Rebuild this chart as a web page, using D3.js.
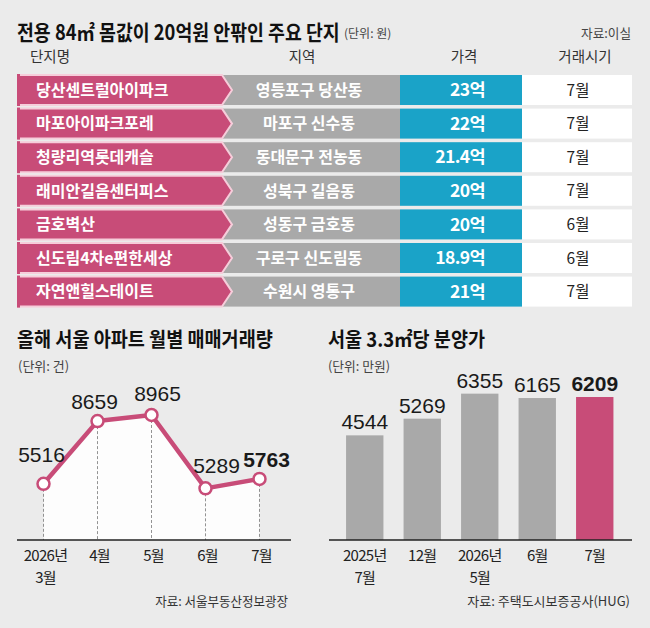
<!DOCTYPE html>
<html>
<head>
<meta charset="utf-8">
<script src="https://cdn.jsdelivr.net/npm/d3@7"></script>
<style>
  body { margin: 0; background: #ebebeb; }
  svg { display: block; }
  text { font-family: "Noto Sans CJK KR", sans-serif; }
  .num { font-family: "Liberation Sans Narrow", "Liberation Sans", sans-serif; }
</style>
</head>
<body>
<svg width="650" height="628"></svg>
<script>
// table: 전용 84㎡ 20억 안팎 단지
let tableHeaders = ['단지명', '지역', '가격', '거래시기'];
let complexes = ['당산센트럴아이파크', '마포아이파크포레', '청량리역롯데캐슬', '래미안길음센터피스', '금호벽산', '신도림4차e편한세상', '자연앤힐스테이트'];
let regions = ['영등포구 당산동', '마포구 신수동', '동대문구 전농동', '성북구 길음동', '성동구 금호동', '구로구 신도림동', '수원시 영통구'];
let prices = [23, 22, 21.4, 20, 20, 18.9, 21];
let tradeMonths = ['7월', '7월', '7월', '7월', '6월', '6월', '7월'];

// 월별 매매거래량
let volMonths = ['2026년\n3월', '4월', '5월', '6월', '7월'];
let volumes = [5516, 8659, 8965, 5289, 5763];

// 3.3㎡당 분양가
let priceMonths = ['2025년\n7월', '12월', '2026년\n5월', '6월', '7월'];
let salePrices = [4544, 5269, 6355, 6165, 6209];

let pink = '#c84c78';
let svg = d3.select('svg');

// helpers
function multiline(sel, lineGap) {
  sel.each(function (d) {
    let t = d3.select(this);
    let lines = t.text().split('\n');
    t.text(null);
    lines.forEach((l, i) => {
      t.append('tspan').attr('x', t.attr('x')).attr('dy', i ? lineGap : 0).text(l);
    });
  });
}

// text squeezed horizontally to a given width (the print font is narrow)
function label(x, y, str, size, opts = {}) {
  let g = svg.append('g');
  let t = g.append('text')
    .attr('font-size', size)
    .attr('fill', opts.fill || '#222')
    .attr('font-weight', opts.bold ? 700 : 400)
    .attr('text-anchor', opts.anchor || 'start')
    .text(str);
  let sx = opts.len ? Math.min(1, opts.len / t.node().getComputedTextLength()) : 1;
  g.attr('transform', `translate(${x},${y}) scale(${sx},1)`);
  return t;
}

// ---------- top table ----------
label(17, 40, '전용 84㎡ 몸값이 20억원 안팎인 주요 단지', 21, { bold: true, fill: '#111', len: 323 });
label(344, 38, '(단위: 원)', 12, { fill: '#444', len: 56 });
label(631, 38, '자료:이실', 13, { fill: '#444', anchor: 'end', len: 50 });

let headerX = [30, 302, 464, 585];
svg.append('g').selectAll('text')
  .data(tableHeaders)
  .enter()
    .append('text')
    .attr('x', (d, i) => headerX[i])
    .attr('y', 62)
    .attr('font-size', 14.5)
    .attr('fill', '#333')
    .attr('text-anchor', (d, i) => i ? 'middle' : 'start')
    .text(d => d)
  ;

let rowY = d3.scaleBand()
  .domain(d3.range(complexes.length))
  .range([75, 306.6])
  .paddingInner(0.107)
  .paddingOuter(0);

let rh = rowY.bandwidth();
let rows = svg.append('g').selectAll('g')
  .data(d3.range(complexes.length))
  .enter()
    .append('g')
    .attr('transform', i => `translate(0,${rowY(i)})`)
  ;

rows.append('rect').attr('x', 522).attr('width', 110).attr('height', rh).attr('fill', '#fff');
rows.append('rect').attr('x', 400).attr('width', 122).attr('height', rh).attr('fill', '#1aa3c8');
rows.append('rect').attr('x', 222).attr('width', 178).attr('height', rh).attr('fill', '#a9a9a9');
rows.append('path')
  .attr('d', `M18,0H222L232,${rh / 2}L222,${rh}H18Z`)
  .attr('fill', pink)
  .attr('stroke', '#f6cdda')
  .attr('stroke-width', 2)
  .attr('stroke-linejoin', 'miter')
  ;
rows.append('rect').attr('x', 17).attr('y', -1).attr('width', 3).attr('height', rh + 2).attr('fill', pink);

rows.append('text')
  .attr('x', 36).attr('y', rh / 2).attr('dy', '0.36em')
  .attr('font-size', 16).attr('font-weight', 700).attr('fill', '#fff')
  .text(i => complexes[i]);
rows.append('text')
  .attr('x', 309).attr('y', rh / 2).attr('dy', '0.36em')
  .attr('font-size', 16).attr('font-weight', 700).attr('fill', '#fff')
  .attr('text-anchor', 'middle')
  .text(i => regions[i]);
rows.append('text')
  .attr('x', 485).attr('y', rh / 2).attr('dy', '0.36em')
  .attr('font-size', 17.5).attr('font-weight', 700).attr('fill', '#fff')
  .attr('text-anchor', 'end')
  .attr('letter-spacing', -0.6)
  .text(i => prices[i] + '억');
rows.append('text')
  .attr('x', 578).attr('y', rh / 2).attr('dy', '0.36em')
  .attr('font-size', 15.5).attr('fill', '#222')
  .attr('text-anchor', 'middle')
  .text(i => tradeMonths[i]);

// ---------- line chart ----------
label(17, 347, '올해 서울 아파트 월별 매매거래량', 20, { bold: true, fill: '#111', len: 256 });
label(18, 371, '(단위: 건)', 13, { fill: '#444', len: 52 });

let base = 540;
let xLine = d3.scalePoint().domain(volMonths).range([43.5, 259.5]);
let yLine = d3.scaleLinear().domain([2700, 9000]).range([base, 414.3]);
let volData = volMonths.map((m, i) => ({ m, v: volumes[i] }));

svg.append('path')
  .datum(volData)
  .attr('fill', '#fff')
  .attr('opacity', 0.9)
  .attr('d', d3.area().x(d => xLine(d.m)).y0(base).y1(d => yLine(d.v)));

svg.append('g').selectAll('line')
  .data(volData)
  .enter()
    .append('line')
    .attr('x1', d => xLine(d.m)).attr('x2', d => xLine(d.m))
    .attr('y1', d => yLine(d.v)).attr('y2', base)
    .attr('stroke', '#777')
    .attr('stroke-width', 0.8)
    .attr('stroke-dasharray', '3,2')
  ;

svg.append('line')
  .attr('x1', 17).attr('x2', 291).attr('y1', base).attr('y2', base)
  .attr('stroke', '#222').attr('stroke-width', 1.5);

svg.append('path')
  .datum(volData)
  .attr('fill', 'none')
  .attr('stroke', pink)
  .attr('stroke-width', 4.5)
  .attr('stroke-linejoin', 'round')
  .attr('d', d3.line().x(d => xLine(d.m)).y(d => yLine(d.v)));

svg.append('g').selectAll('circle')
  .data(volData)
  .enter()
    .append('circle')
    .attr('cx', d => xLine(d.m))
    .attr('cy', d => yLine(d.v))
    .attr('r', 6)
    .attr('fill', '#fff')
    .attr('stroke', pink)
    .attr('stroke-width', 2.5)
  ;

let labelNudge = [[-2, -22], [-3, -12], [6, -14], [11, -15], [7, -12]];
svg.append('g').selectAll('text')
  .data(volData)
  .enter()
    .append('text')
    .attr('class', 'num')
    .attr('x', (d, i) => xLine(d.m) + labelNudge[i][0])
    .attr('y', (d, i) => yLine(d.v) + labelNudge[i][1])
    .attr('font-size', 21)
    .attr('font-weight', (d, i) => i === volData.length - 1 ? 700 : 400)
    .attr('fill', '#1a1a1a')
    .attr('text-anchor', 'middle')
    .text(d => d.v)
  ;

svg.append('g').selectAll('text')
  .data(volMonths)
  .enter()
    .append('text')
    .attr('x', d => xLine(d) + 2)
    .attr('y', 561)
    .attr('font-size', 15)
    .attr('fill', '#222')
    .attr('text-anchor', 'middle')
    .attr('letter-spacing', -0.7)
    .text(d => d)
    .call(multiline, 22)
  ;

label(288, 606, '자료: 서울부동산정보광장', 13, { fill: '#333', anchor: 'end', len: 133 });

// ---------- bar chart ----------
label(328, 347, '서울 3.3㎡당 분양가', 20, { bold: true, fill: '#111', len: 157 });
label(328, 371, '(단위: 만원)', 13, { fill: '#444', len: 62 });

let xBar = d3.scaleBand()
  .domain(priceMonths)
  .range([336, 623.5])
  .paddingInner(0.35)
  .paddingOuter(0.175);
let yBar = d3.scaleLinear().domain([0, 7000]).range([base, base - 161.2]);
let barData = priceMonths.map((m, i) => ({ m, v: salePrices[i] }));
let last = priceMonths.length - 1;

svg.append('g').selectAll('rect')
  .data(barData)
  .enter()
    .append('rect')
    .attr('x', d => xBar(d.m))
    .attr('y', d => yBar(d.v))
    .attr('width', xBar.bandwidth())
    .attr('height', d => base - yBar(d.v))
    .attr('fill', (d, i) => i === last ? pink : '#a9a9a9')
  ;

svg.append('line')
  .attr('x1', 329).attr('x2', 632).attr('y1', base).attr('y2', base)
  .attr('stroke', '#222').attr('stroke-width', 1.5);

svg.append('g').selectAll('text')
  .data(barData)
  .enter()
    .append('text')
    .attr('class', 'num')
    .attr('x', d => xBar(d.m) + xBar.bandwidth() / 2)
    .attr('y', d => yBar(d.v) - 6)
    .attr('font-size', 21)
    .attr('font-weight', (d, i) => i === last ? 700 : 400)
    .attr('fill', '#1a1a1a')
    .attr('text-anchor', 'middle')
    .text(d => d.v)
  ;

svg.append('g').selectAll('text')
  .data(priceMonths)
  .enter()
    .append('text')
    .attr('x', d => xBar(d) + xBar.bandwidth() / 2)
    .attr('y', 561)
    .attr('font-size', 15)
    .attr('fill', '#222')
    .attr('text-anchor', 'middle')
    .attr('letter-spacing', -0.7)
    .text(d => d)
    .call(multiline, 22)
  ;

label(630, 606, '자료: 주택도시보증공사(HUG)', 13, { fill: '#333', anchor: 'end', len: 167 });
</script>
</body>
</html>
